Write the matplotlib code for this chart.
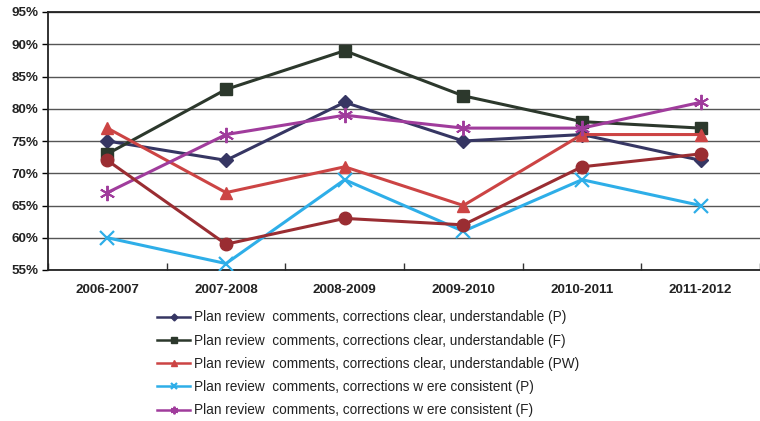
import matplotlib
matplotlib.use("Agg")
import matplotlib.pyplot as plt
from matplotlib.ticker import FuncFormatter, FixedLocator

years = ["2006-2007", "2007-2008", "2008-2009", "2009-2010", "2010-2011", "2011-2012"]

clear_p = [75, 72, 81, 75, 76, 72]
clear_f = [73, 83, 89, 82, 78, 77]
clear_pw = [77, 67, 71, 65, 76, 76]
consistent_p = [60, 56, 69, 61, 69, 65]
consistent_f = [67, 76, 79, 77, 77, 81]
consistent_pw = [72, 59, 63, 62, 71, 73]

labels = [
    "Plan review  comments, corrections clear, understandable (P)",
    "Plan review  comments, corrections clear, understandable (F)",
    "Plan review  comments, corrections clear, understandable (PW)",
    "Plan review  comments, corrections w ere consistent (P)",
    "Plan review  comments, corrections w ere consistent (F)",
]

plt.rcParams["font.family"] = ["Liberation Sans", "DejaVu Sans"]

fig = plt.figure(figsize=(7.6, 4.21), dpi=100)
ax = fig.add_axes([48 / 760, 1 - 270 / 421, 712 / 760, 258 / 421])

x = list(range(len(years)))
series = [
    (clear_p, "#363663", "D", 7, labels[0], dict()),
    (clear_f, "#2c382c", "s", 8, labels[1], dict()),
    (clear_pw, "#cc4444", "^", 9, labels[2], dict()),
    (consistent_p, "#2eaee8", "x", 10, labels[3], dict(markeredgewidth=1.6)),
    (consistent_f, "#a03c9c", (6, 2, 0), 11, labels[4], dict(markeredgewidth=1.4)),
    (consistent_pw, "#9a2d32", "o", 9, None, dict()),
]

handles = []
for vals, col, mk, ms, lab, extra in series:
    kw = dict(color=col, marker=mk, markersize=ms, linewidth=2.2,
              markerfacecolor=col, markeredgecolor=col)
    kw.update(extra)
    h, = ax.plot(x, vals, label=lab, zorder=3, **kw)
    if lab is not None:
        handles.append(h)

ax.set_xlim(-0.5, len(years) - 0.5)
ax.set_ylim(55, 95)
ax.set_yticks(range(55, 96, 5))
ax.yaxis.set_major_formatter(FuncFormatter(lambda v, p: f"{int(v)}%"))
ax.set_xticks(x)
ax.set_xticklabels(years)
ax.xaxis.set_minor_locator(FixedLocator([i + 0.5 for i in range(-1, len(years))]))
ax.tick_params(axis="x", which="major", length=0, pad=10)
ax.tick_params(axis="x", which="minor", length=5, width=1, direction="in", color="#333333")
ax.tick_params(axis="y", length=4, width=1, direction="out", pad=3)
for lbl in ax.get_xticklabels() + ax.get_yticklabels():
    lbl.set_fontweight("bold")
    lbl.set_fontsize(9.6)
    lbl.set_color("#222222")

ax.grid(axis="y", color="#555555", linewidth=1.0, zorder=0)
for side in ["left", "bottom", "top"]:
    ax.spines[side].set_color("#222222")
    ax.spines[side].set_linewidth(1.3)
ax.spines["right"].set_visible(False)

leg = fig.legend(handles=handles, loc="upper left", bbox_to_anchor=(152 / 760, 1 - 305 / 421),
                 frameon=False, fontsize=9.8, handlelength=2.4, handletextpad=0.3,
                 labelspacing=0.68, borderaxespad=0, markerscale=0.5)
for t in leg.get_texts():
    t.set_color("#222222")
for lh in leg.legend_handles:
    lh.set_linewidth(1.8)

fig.savefig("out.png", dpi=100)
